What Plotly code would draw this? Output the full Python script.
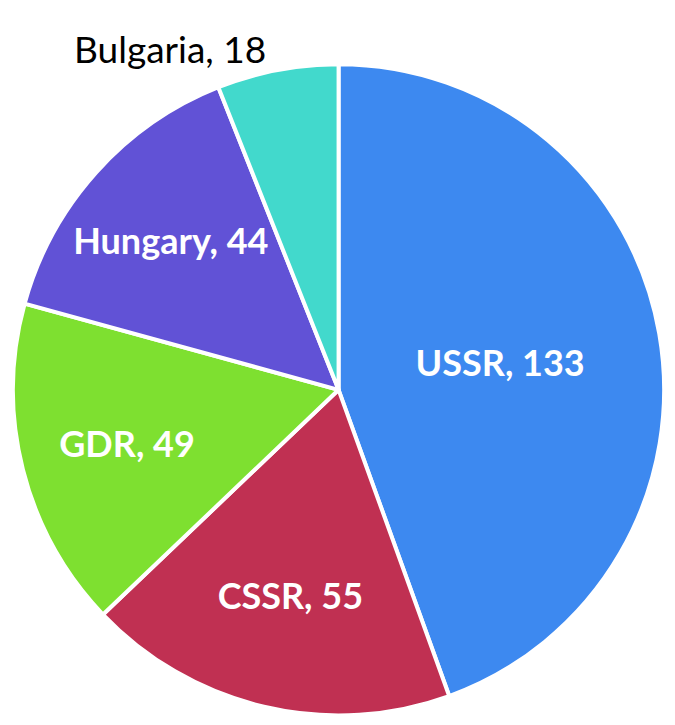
import plotly.graph_objects as go

countries = ["USSR", "CSSR", "GDR", "Hungary", "Bulgaria"]
values = [133, 55, 49, 44, 18]
colors = ["#3d89f0", "#c03052", "#7ee030", "#6152d6", "#42d9cc"]
text_positions = ["inside", "inside", "inside", "inside", "outside"]

fig = go.Figure(go.Pie(
    labels=countries,
    values=values,
    sort=False,
    direction="clockwise",
    rotation=0,
    marker=dict(colors=colors, line=dict(color="white", width=4)),
    texttemplate="%{label}, %{value}",
    textposition=text_positions,
    insidetextorientation="horizontal",
    insidetextfont=dict(family="Lato", size=36, color="white", weight="bold"),
    outsidetextfont=dict(family="Lato", size=37, color="black"),
    showlegend=False,
    hoverinfo="label+value",
    domain=dict(x=[0/675, 656/675], y=[1-714/725, 1-44/725]),
))
fig.update_layout(
    width=675, height=725,
    margin=dict(l=0, r=0, t=0, b=0),
    paper_bgcolor="white",
    plot_bgcolor="white",
)
fig.write_html("out.html")
